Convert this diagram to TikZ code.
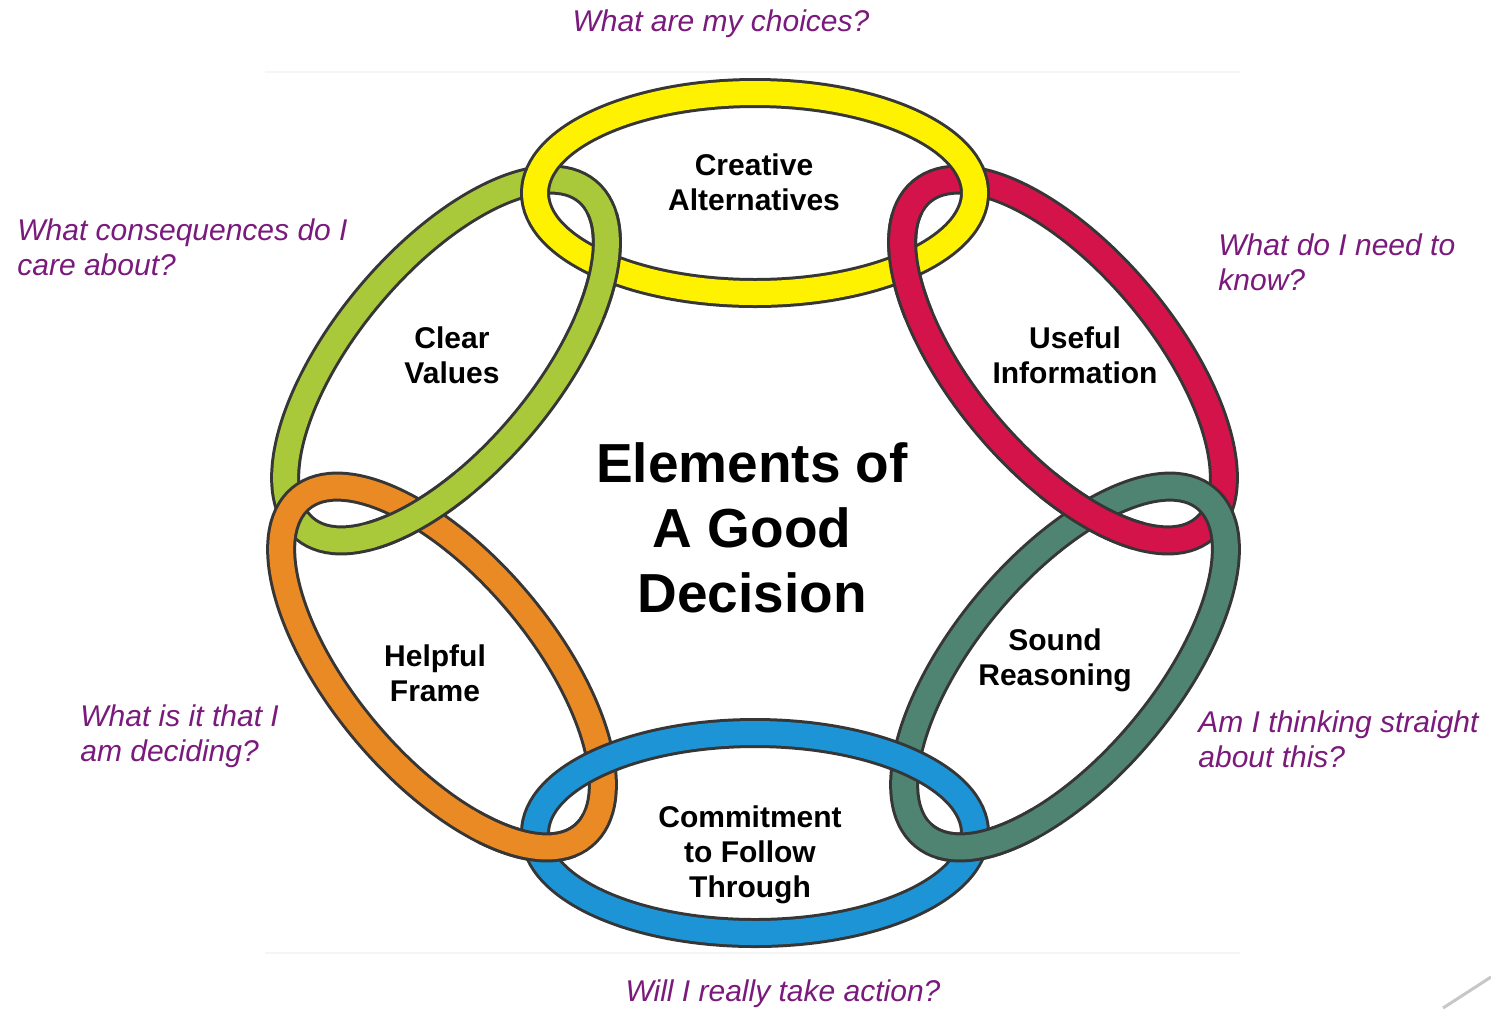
\documentclass[tikz,border=0pt]{standalone}
\usepackage{fontspec}
\setmainfont{Liberation Sans}
\definecolor{ringedge}{HTML}{363636}
\definecolor{cyellow}{HTML}{FFF200}
\definecolor{cgreen}{HTML}{A9C93A}
\definecolor{cred}{HTML}{D3134A}
\definecolor{corange}{HTML}{EA8A24}
\definecolor{cblue}{HTML}{1C94D6}
\definecolor{cteal}{HTML}{4F8473}
\definecolor{qpurple}{HTML}{7A1A7C}
\tikzset{
  ringline/.style={draw=ringedge, line width=15pt},
  ringfill/.style={draw=#1, line width=12pt},
  label/.style={font=\bfseries\fontsize{15}{17.5}\selectfont, align=center, inner sep=0pt},
  title/.style={font=\bfseries\fontsize{27.5}{32.5}\selectfont, align=center, inner sep=0pt},
  question/.style={font=\itshape\fontsize{15}{17.5}\selectfont, text=qpurple, align=left, inner sep=0pt},
}
% one ring: centre x, centre y, tilt, colour
\newcommand\drawring[4]{%
  \begin{scope}[shift={(#1,#2)}, rotate=#3]
    \draw[ringline] (0,0) ellipse[x radius=110pt, y radius=50pt];
    \draw[ringfill=#4] (0,0) ellipse[x radius=110pt, y radius=50pt];
  \end{scope}}
% the same ring again inside a small disc, so it passes over its neighbour there;
% the coloured band reaches a little further than the edge so no seam shows
\newcommand\overring[7]{%
  \begin{scope}
    \clip (#5,#6) circle[radius=#7];
    \begin{scope}[shift={(#1,#2)}, rotate=#3]
      \draw[ringline] (0,0) ellipse[x radius=110pt, y radius=50pt];
    \end{scope}
  \end{scope}
  \begin{scope}
    \clip (#5,#6) circle[radius=#7+3pt];
    \begin{scope}[shift={(#1,#2)}, rotate=#3]
      \draw[ringfill=#4] (0,0) ellipse[x radius=110pt, y radius=50pt];
    \end{scope}
  \end{scope}}
\begin{document}
\begin{tikzpicture}[x=0.5pt, y=-0.5pt]
  \useasboundingbox[fill=white] (0,0) rectangle (1491,1008);
  % faint frame lines of the slide
  \draw[black!4, line width=0.6pt] (265,72) -- (1240,72);
  \draw[black!4, line width=0.6pt] (265,953) -- (1240,953);
  \draw[black!22, line width=1.5pt] (1443,1008) -- (1491,977);

  % the six rings
  \drawring{446}{360}{50}{cgreen}
  \drawring{442}{667}{-50}{corange}
  \drawring{1063}{360}{-50}{cred}
  \drawring{1065}{667}{50}{cteal}
  \drawring{755}{193}{0}{cyellow}
  \drawring{755}{833}{0}{cblue}

  % interlocking: where the earlier ring goes over the later one
  \overring{446}{360}{50}{cgreen}{605}{265}{27pt}
  \overring{1063}{360}{-50}{cred}{905}{265}{27pt}
  \overring{1063}{360}{-50}{cred}{1090}{515}{27pt}
  \overring{446}{360}{50}{cgreen}{420}{515}{27pt}
  \overring{442}{667}{-50}{corange}{530}{830}{27pt}
  \overring{1065}{667}{50}{cteal}{985}{835}{27pt}

  % ring labels
  \node[label] (alt) at (754,182) {Creative\\Alternatives};
  \node[label] (val) at (452,355) {Clear\\Values};
  \node[label] (inf) at (1075,355) {Useful\\Information};
  \node[label] (frm) at (435,673) {Helpful\\Frame};
  \node[label] (rea) at (1055,660) {Sound\\Reasoning};
  \node[label] (com) at (750,855) {Commitment\\to Follow\\Through};
  \node[title] (ttl) at (752,528) {Elements of\\A Good\\Decision};

  % questions
  \node[question] (q1) at (721,24) {What are my choices?};
  \node[question, anchor=west] (q2) at (17,247) {What consequences do I\\care about?};
  \node[question, anchor=west] (q3) at (1218,262) {What do I need to\\know?};
  \node[question, anchor=west] (q4) at (80,736) {What is it that I\\am deciding?};
  \node[question, anchor=west] (q5) at (1198,739) {Am I thinking straight\\about this?};
  \node[question] (q6) at (783,994) {Will I really take action?};
\end{tikzpicture}
\end{document}
